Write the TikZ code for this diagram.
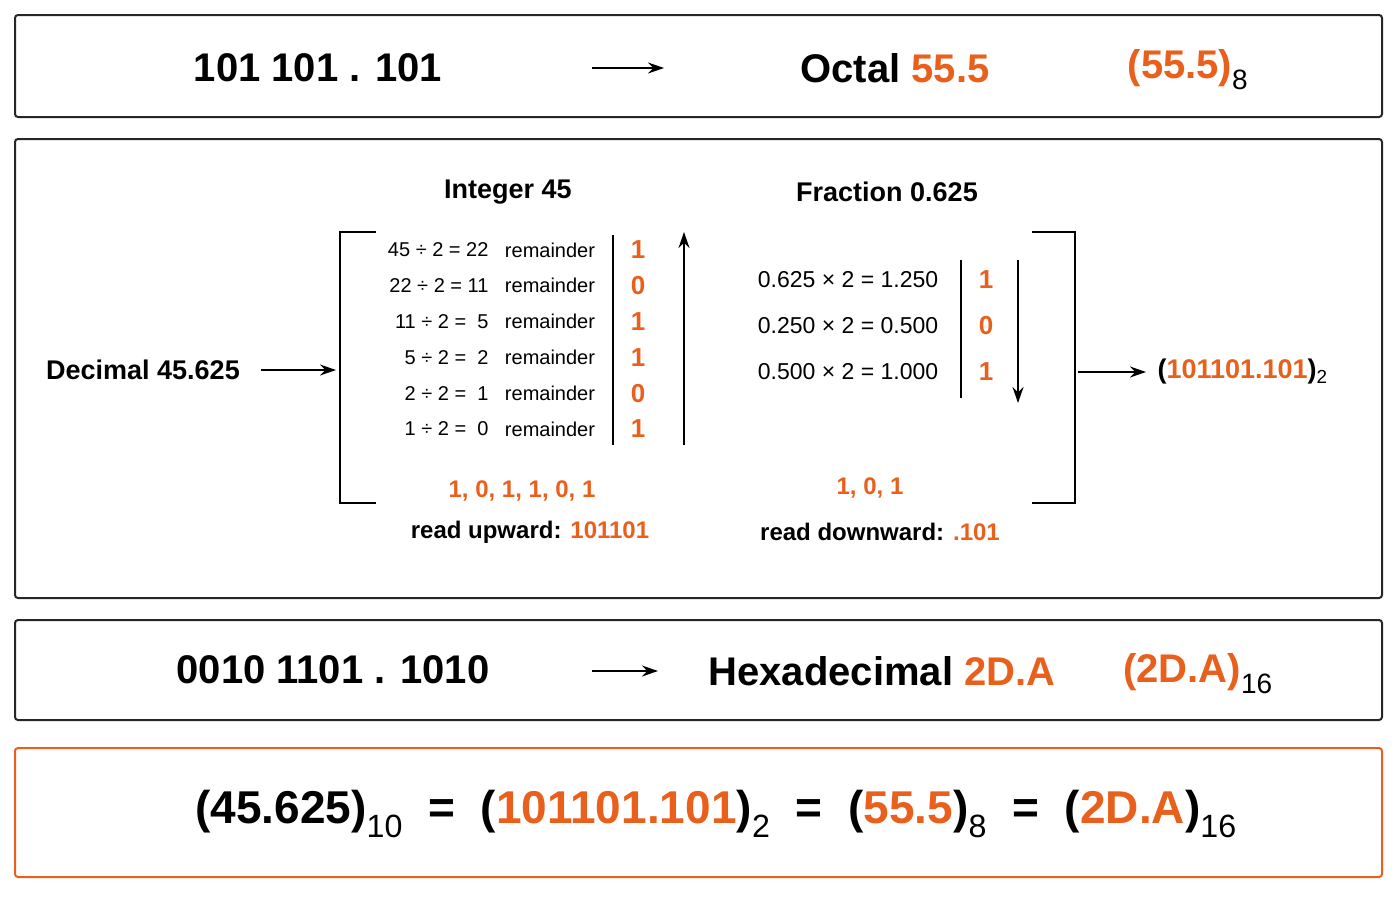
\documentclass[tikz,border=0pt]{standalone}
\usepackage{fontspec}
\setmainfont{Liberation Sans}
\usetikzlibrary{arrows.meta}
\definecolor{org}{HTML}{E8601C}
\newcommand{\og}[1]{\textcolor{org}{#1}}
\newcommand{\mysb}[1]{\textsubscript{\textcolor{black}{\mdseries #1}}}
\begin{document}
\begin{tikzpicture}[x=1pt,y=-1pt,
 box/.style={draw=black!85,line width=2pt,rounded corners=3pt},
 arr/.style={-{Stealth[length=16pt,width=11pt]},line width=1.8pt},
 big/.style={font=\fontsize{40}{44}\selectfont\bfseries},
 mid/.style={font=\fontsize{27}{30}\selectfont\bfseries},
 sm/.style={font=\fontsize{20}{22}\selectfont},
 dig/.style={font=\fontsize{26}{28}\selectfont\bfseries,text=org},
 lbl/.style={font=\fontsize{24}{28}\selectfont\bfseries}]
\useasboundingbox (0,0) rectangle (1400,900);
\fill[white] (0,0) rectangle (1400,900);
\draw[box] (15,15) rectangle (1382,117);
\draw[box] (15,139) rectangle (1382,598);
\draw[box] (15,620) rectangle (1382,720);
\draw[box,draw=org] (15,748) rectangle (1382,877);
% row 1
\node[big] (b1) at (318,68) {101 101 . 101};
\coordinate (a1s) at (592,68); \coordinate (a1e) at (664,68);
\draw[arr] (a1s) -- (a1e);
\node[big] (o1) at (895,68) {Octal \og{55.5}};
\node[big,text=org] (o2) at (1188,70) {(55.5)\mysb{8}};
% middle
\node[mid] (ih) at (508,192) {Integer 45};
\node[mid] (fh) at (887,192) {Fraction 0.625};
\node[mid] (dec) at (143,370) {Decimal 45.625};
\coordinate (lb) at (336,370);
\draw[arr] (dec.east) ++(18,0) -- (lb);
\draw[line width=2pt] (376,232) -- (340,232) -- (340,503) -- (376,503);
\draw[line width=2pt] (1032,232) -- (1075,232) -- (1075,503) -- (1032,503);
\coordinate (rs) at (1078,372); \coordinate (re) at (1146,372);
\draw[arr] (rs) -- (re);
\node[mid,anchor=west,text=org] (res) at (1154,372) {\textcolor{black}{(}101101.101\textcolor{black}{)}\mysb{2}};
\foreach \e/\d [count=\i] in {45 ÷ 2 = 22/1,22 ÷ 2 = 11/0,11 ÷ 2 =\ \ 5/1,5 ÷ 2 =\ \ 2/1,2 ÷ 2 =\ \ 1/0,1 ÷ 2 =\ \ 0/1}{
 \pgfmathsetmacro{\yy}{250+(\i-1)*35.8}
 \node[sm,anchor=east] (e\i) at (492,\yy) {\e};
 \node[sm] (r\i) at (550,\yy) {remainder};
 \node[dig] (d\i) at (638,\yy) {\d};
}
\draw[line width=1.6pt] (613,235) -- (613,445);
\coordinate (ua) at (684,445); \coordinate (ub) at (684,232);
\draw[arr] (ua) -- (ub);
\node[lbl,text=org] (l1) at (522,491) {1, 0, 1, 1, 0, 1};
\node[lbl] (l2) at (530,532) {read upward: \og{101101}};
\foreach \e/\d [count=\i] in {0.625 × 2 = 1.250/1,0.250 × 2 = 0.500/0,0.500 × 2 = 1.000/1}{
 \pgfmathsetmacro{\yy}{280+(\i-1)*46}
 \node[sm,font=\fontsize{23}{26}\selectfont] (f\i) at (848,\yy) {\e};
 \node[dig] (g\i) at (986,\yy) {\d};
}
\draw[line width=1.6pt] (961,260) -- (961,398);
\coordinate (da) at (1018,260); \coordinate (db) at (1018,403);
\draw[arr] (da) -- (db);
\node[lbl,text=org] (m1) at (870,488) {1, 0, 1};
\node[lbl] (m2) at (880,532) {read downward: \og{.101}};
% row 3
\node[big] (h1) at (333,670) {0010 1101 . 1010};
\coordinate (a3s) at (592,671); \coordinate (a3e) at (658,671);
\draw[arr] (a3s) -- (a3e);
\node[big] (h2) at (882,671) {Hexadecimal \og{2D.A}};
\node[big,text=org] (h3) at (1198,674) {(2D.A)\mysb{16}};
% row 4
\node[big,font=\fontsize{46}{50}\selectfont\bfseries] (eq) at (716,814) {(45.625)\mysb{10} \ = \ (\og{101101.101})\mysb{2} \ = \ (\og{55.5})\mysb{8} \ = \ (\og{2D.A})\mysb{16}};
\end{tikzpicture}
\end{document}
